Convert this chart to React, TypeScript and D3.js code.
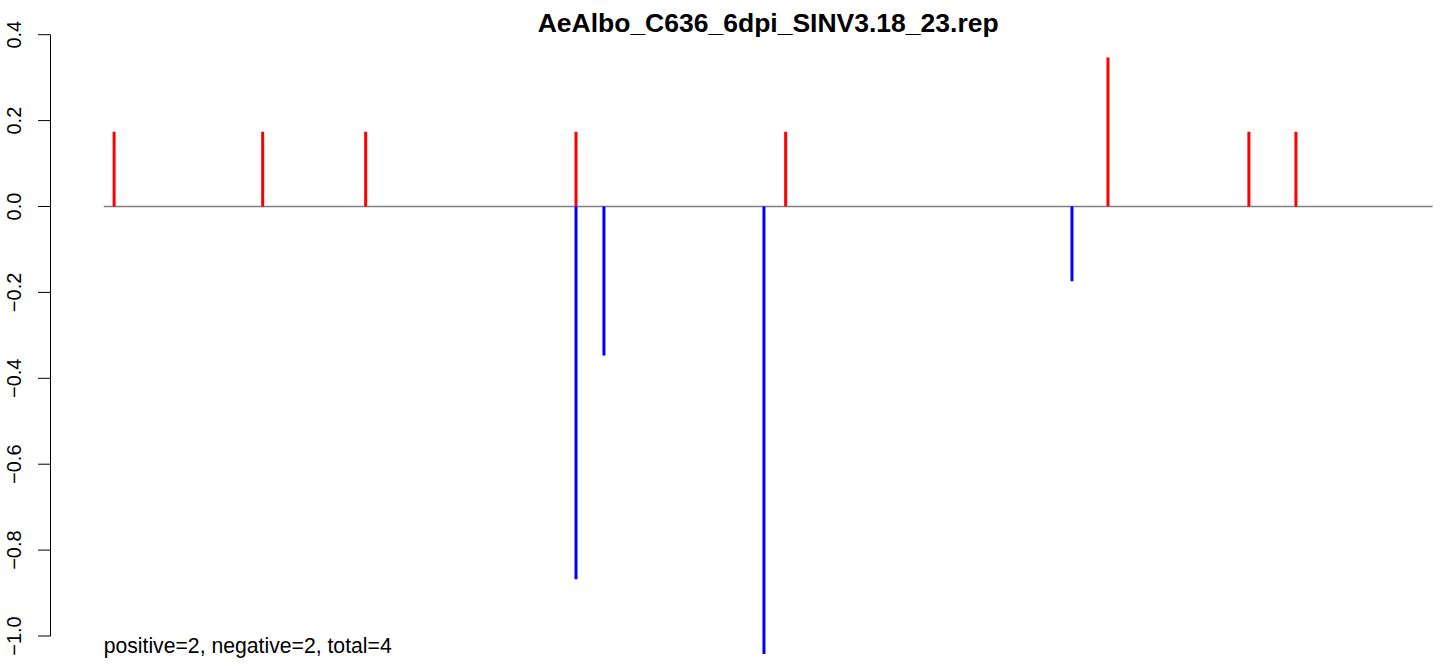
import React from "react";
import * as d3 from "d3";

const TITLE = "AeAlbo_C636_6dpi_SINV3.18_23.rep";
const SUMMARY = "positive=2, negative=2, total=4";

// genome extent (line from first to last position)
const SEQ_START = 1;
const SEQ_END = 11703;

// positive-strand reads (red)
const posPositions = [93, 1401, 2308, 4160, 6006, 8844, 10085, 10499];
const posValues = [0.174, 0.174, 0.174, 0.174, 0.174, 0.347, 0.174, 0.174];

// negative-strand reads (blue)
const negPositions = [4160, 4406, 5815, 8527];
const negValues = [-0.868, -0.347, -1.042, -0.174];

const yTicks = [-1.0, -0.8, -0.6, -0.4, -0.2, 0.0, 0.2, 0.4];

const W = 1444;
const H = 666;

export default function App() {
  const span = SEQ_END - SEQ_START;
  const x = d3
    .scaleLinear()
    .domain([SEQ_START - 0.04 * span, SEQ_END + 0.04 * span])
    .range([50.5, 50.5 + 1329 * 1.08]);
  const y = d3.scaleLinear().domain([-1.0, 0.4]).range([636, 34.7]);
  const font = "'Liberation Sans', Arial, Helvetica, sans-serif";
  const plotCenter = (x.range()[0] + x.range()[1]) / 2;

  return (
    <svg
      width={W}
      height={H}
      style={{ position: "absolute", left: 0, top: 0, background: "#fff" }}
      fontFamily={font}
    >
      <rect x={0} y={0} width={W} height={H} fill="#fff" />
      {/* y axis */}
      <line x1={50.5} x2={50.5} y1={y(-1.0)} y2={y(0.4)} stroke="#000" strokeWidth={1} />
      {yTicks.map((t) => (
        <g key={t}>
          <line x1={38} x2={50.5} y1={y(t)} y2={y(t)} stroke="#000" strokeWidth={1} />
          <text
            transform={`translate(21,${y(t)}) rotate(-90)`}
            textAnchor="middle"
            fontSize={20}
            fill="#000"
          >
            {d3.format(".1f")(t).replace("-", "\u2212")}
          </text>
        </g>
      ))}
      {/* zero line */}
      <line
        x1={x(SEQ_START)}
        x2={x(SEQ_END)}
        y1={y(0)}
        y2={y(0)}
        stroke="#7f7f7f"
        strokeWidth={1.3}
      />
      {/* positive bars */}
      {posPositions.map((p, i) => (
        <line
          key={"p" + i}
          x1={x(p)}
          x2={x(p)}
          y1={y(0)}
          y2={y(posValues[i])}
          stroke="#ff0000"
          strokeWidth={3}
        />
      ))}
      {/* negative bars */}
      {negPositions.map((p, i) => (
        <line
          key={"n" + i}
          x1={x(p)}
          x2={x(p)}
          y1={y(0)}
          y2={y(negValues[i])}
          stroke="#0000ff"
          strokeWidth={3}
        />
      ))}
      <text
        x={plotCenter}
        y={31.5}
        textAnchor="middle"
        fontSize={26.5}
        fontWeight="bold"
        fill="#000"
      >
        {TITLE}
      </text>
      <text x={x(SEQ_START)} y={653} fontSize={21.2} fill="#000">
        {SUMMARY}
      </text>
    </svg>
  );
}
